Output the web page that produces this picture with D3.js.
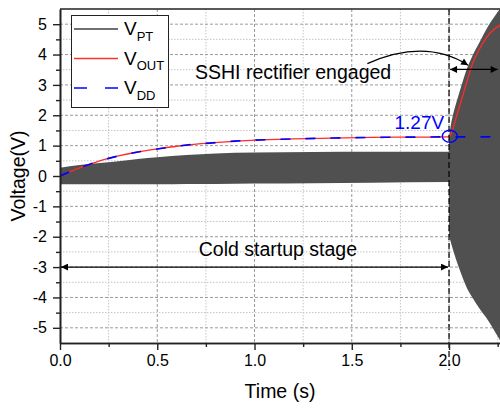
<!DOCTYPE html>
<html>
<head>
<meta charset="utf-8">
<script src="https://cdn.jsdelivr.net/npm/d3@7"></script>
<style>
  body { margin: 0; background: #fff; }
  svg { display: block; font-family: Arial, "Liberation Sans", sans-serif; }
</style>
</head>
<body>
<div id="chart"></div>
<script>
// V_PT envelope during cold startup (s, V)
const vptT  = [0, 0.1, 0.25, 0.4, 0.5, 0.65, 0.8, 1.0, 1.3, 1.6, 2.0];
const vptHi = [0.27, 0.36, 0.45, 0.56, 0.62, 0.69, 0.74, 0.77, 0.79, 0.80, 0.80];
const vptLo = [-0.27, -0.27, -0.27, -0.27, -0.27, -0.26, -0.26, -0.25, -0.24, -0.22, -0.20];

// V_PT envelope once the SSHI rectifier is engaged
const sshiT  = [2.0, 2.01, 2.02, 2.04, 2.06, 2.09, 2.12, 2.16, 2.2, 2.25, 2.28];
const sshiHi = [1.3, 1.7, 2.0, 2.47, 2.9, 3.5, 3.95, 4.45, 4.92, 5.4, 5.65];
const sshiLo = [-1.95, -2.2, -2.42, -2.82, -3.18, -3.66, -4.0, -4.4, -4.75, -5.28, -5.6];

// V_OUT
const voutT = [0, 0.05, 0.1, 0.15, 0.2, 0.25, 0.3, 0.4, 0.5, 0.6, 0.7, 0.8, 0.9, 1.0, 1.2, 1.4, 1.6, 1.8, 2.0,
               2.012, 2.04, 2.064, 2.09, 2.115, 2.158, 2.21, 2.27];
const vout  = [0, 0.14, 0.27, 0.38, 0.49, 0.58, 0.66, 0.79, 0.89, 0.98, 1.05, 1.10, 1.15, 1.18, 1.22, 1.25, 1.27, 1.28, 1.29,
               1.41, 2.0, 2.51, 3.07, 3.6, 4.2, 4.7, 5.0];

// V_DD
const vddT = [0, 0.05, 0.1, 0.15, 0.2, 0.25, 0.3, 0.4, 0.5, 0.6, 0.7, 0.8, 0.9, 1.0, 1.2, 1.4, 1.6, 1.8, 2.0, 2.28];
const vdd  = [0, 0.14, 0.27, 0.38, 0.49, 0.58, 0.66, 0.79, 0.89, 0.98, 1.05, 1.10, 1.15, 1.18, 1.22, 1.25, 1.27, 1.28, 1.29, 1.29];

// ticks
const xMajor = [0, 0.5, 1.0, 1.5, 2.0];
const xMinor = [0.25, 0.75, 1.25, 1.75, 2.25];
const yMajor = [-5, -4, -3, -2, -1, 0, 1, 2, 3, 4, 5];
const yMinor = [-4.5, -3.5, -2.5, -1.5, -0.5, 0.5, 1.5, 2.5, 3.5, 4.5];

const legendNames = [["V", "PT"], ["V", "OUT"], ["V", "DD"]];

const W = 500, H = 409;
const margin = { top: 9, right: 0, bottom: 66, left: 60 };

const svg = d3.select("#chart").append("svg")
  .attr("width", W).attr("height", H);

const x = d3.scaleLinear().domain([0, 2.262]).range([margin.left, W - margin.right]);
const y = d3.scaleLinear().domain([-5.5, 5.5]).range([H - margin.bottom, margin.top]);

svg.append("clipPath").attr("id", "plotClip")
  .append("rect")
  .attr("x", x(0)).attr("y", y(5.5))
  .attr("width", x(2.262) - x(0)).attr("height", y(-5.5) - y(5.5));

// markers
const defs = svg.append("defs");
defs.append("marker")
  .attr("id", "arrow")
  .attr("viewBox", "0 -5 10 10")
  .attr("refX", 10).attr("refY", 0)
  .attr("markerWidth", 11).attr("markerHeight", 7)
  .attr("markerUnits", "userSpaceOnUse")
  .attr("orient", "auto-start-reverse")
  .append("path").attr("d", "M0,-5L10,0L0,5Z").attr("fill", "#000");

// grid
const grid = svg.append("g");
grid.selectAll(".hmin").data(yMinor).enter().append("line")
  .attr("x1", x(0)).attr("x2", W)
  .attr("y1", d => y(d)).attr("y2", d => y(d))
  .attr("stroke", "#c4c4c4").attr("stroke-width", 1).attr("stroke-dasharray", "1.5,1.5");
grid.selectAll(".vmin").data(xMinor).enter().append("line")
  .attr("x1", d => x(d)).attr("x2", d => x(d))
  .attr("y1", y(5.5)).attr("y2", y(-5.5))
  .attr("stroke", "#c4c4c4").attr("stroke-width", 1).attr("stroke-dasharray", "1.5,1.5");
grid.selectAll(".hmaj").data(yMajor).enter().append("line")
  .attr("x1", x(0)).attr("x2", W)
  .attr("y1", d => y(d)).attr("y2", d => y(d))
  .attr("stroke", "#9a9a9a").attr("stroke-width", 1).attr("stroke-dasharray", "3,2");
grid.selectAll(".vmaj").data(xMajor.slice(1)).enter().append("line")
  .attr("x1", d => x(d)).attr("x2", d => x(d))
  .attr("y1", y(5.5)).attr("y2", y(-5.5))
  .attr("stroke", "#9a9a9a").attr("stroke-width", 1).attr("stroke-dasharray", "3,2");

const plot = svg.append("g").attr("clip-path", "url(#plotClip)");

// V_PT bands
const band = d3.area()
  .x(d => x(d[0])).y0(d => y(d[2])).y1(d => y(d[1]))
  .curve(d3.curveMonotoneX);

plot.append("path")
  .datum(vptT.map((t, i) => [t, vptHi[i], vptLo[i]]))
  .attr("d", band).attr("fill", "#505050");

plot.append("path")
  .datum(sshiT.map((t, i) => [t, sshiHi[i], sshiLo[i]]))
  .attr("d", band).attr("fill", "#505050");

// V_OUT and V_DD
const line = d3.line().x(d => x(d[0])).y(d => y(d[1])).curve(d3.curveMonotoneX);

plot.append("path")
  .datum(voutT.map((t, i) => [t, vout[i]]))
  .attr("d", line).attr("fill", "none")
  .attr("stroke", "#ff2a2a").attr("stroke-width", 1.3);

plot.append("path")
  .datum(vddT.map((t, i) => [t, vdd[i]]))
  .attr("d", line).attr("fill", "none")
  .attr("stroke", "#0000ff").attr("stroke-width", 1.6).attr("stroke-dasharray", "10,15");

// vertical dashed marker at 2.0 s
svg.append("line")
  .attr("x1", x(2.0)).attr("x2", x(2.0))
  .attr("y1", y(5.5)).attr("y2", y(-5.5) + 27)
  .attr("stroke", "#000").attr("stroke-width", 1.2).attr("stroke-dasharray", "6,3");

// axes
const axisStyle = g => {
  g.select(".domain").attr("stroke", "#222").attr("stroke-width", 1.6);
  g.selectAll(".tick line").attr("stroke", "#222").attr("stroke-width", 1.4);
  g.selectAll("text").attr("fill", "#000").style("font-size", "16px").style("font-family", "Arial, 'Liberation Sans', sans-serif");
};

svg.append("g")
  .attr("transform", `translate(${x(0)},0)`)
  .call(d3.axisLeft(y).tickValues(yMinor).tickSize(4).tickFormat("").tickSizeOuter(0))
  .call(axisStyle);
svg.append("g")
  .attr("transform", `translate(${x(0)},0)`)
  .call(d3.axisLeft(y).tickValues(yMajor).tickSize(7).tickPadding(6).tickSizeOuter(0)
    .tickFormat(d => String(d)))
  .call(axisStyle);

svg.append("g")
  .attr("transform", `translate(0,${y(-5.5)})`)
  .call(d3.axisBottom(x).tickValues(xMinor).tickSize(4).tickFormat("").tickSizeOuter(0))
  .call(axisStyle);
svg.append("g")
  .attr("transform", `translate(0,${y(-5.5)})`)
  .call(d3.axisBottom(x).tickValues(xMajor).tickSize(7).tickPadding(5).tickSizeOuter(0)
    .tickFormat(d3.format(".1f")))
  .call(axisStyle);

// top frame
svg.append("line")
  .attr("x1", x(0)).attr("x2", W)
  .attr("y1", y(5.5)).attr("y2", y(5.5))
  .attr("stroke", "#222").attr("stroke-width", 1.6);

// axis titles
svg.append("text")
  .attr("x", (x(0) + W) / 2 + 0)
  .attr("y", 398)
  .attr("text-anchor", "middle")
  .style("font-size", "19.5px")
  .text("Time (s)");

svg.append("text")
  .attr("transform", `translate(25,${y(0)}) rotate(-90)`)
  .attr("text-anchor", "middle")
  .style("font-size", "19.5px")
  .text("Voltage(V)");

// annotations
svg.append("line")
  .attr("x1", x(0) + 1).attr("x2", x(2.0) - 1)
  .attr("y1", y(-3)).attr("y2", y(-3))
  .attr("stroke", "#000").attr("stroke-width", 1.2)
  .attr("marker-start", "url(#arrow)").attr("marker-end", "url(#arrow)");

svg.append("text")
  .attr("x", x(1.12)).attr("y", y(-2.63))
  .attr("text-anchor", "middle")
  .style("font-size", "19.5px")
  .text("Cold startup stage");

svg.append("line")
  .attr("x1", x(2.0) + 1).attr("x2", x(2.25))
  .attr("y1", y(3.51)).attr("y2", y(3.51))
  .attr("stroke", "#000").attr("stroke-width", 1.2)
  .attr("marker-start", "url(#arrow)").attr("marker-end", "url(#arrow)");

svg.append("path")
  .attr("d", `M${x(1.58)},${y(3.7)} Q${x(1.877)},${y(4.545)} ${x(2.098)},${y(3.65)}`)
  .attr("fill", "none").attr("stroke", "#000").attr("stroke-width", 1.2)
  .attr("marker-end", "url(#arrow)");

svg.append("text")
  .attr("x", x(0.694)).attr("y", y(3.18))
  .style("font-size", "19.5px")
  .text("SSHI rectifier engaged");

svg.append("ellipse")
  .attr("cx", x(2.004)).attr("cy", y(1.31))
  .attr("rx", 7.5).attr("ry", 6)
  .attr("fill", "none").attr("stroke", "#0000ff").attr("stroke-width", 1.4);

svg.append("text")
  .attr("x", x(1.975)).attr("y", y(1.55))
  .attr("text-anchor", "end")
  .attr("fill", "#0000ff")
  .style("font-size", "19px")
  .text("1.27V");

// legend
const lg = svg.append("g");
lg.append("rect")
  .attr("x", 71.5).attr("y", 15.5).attr("width", 97).attr("height", 92)
  .attr("fill", "#fff").attr("stroke", "#222").attr("stroke-width", 1);

const legendStyles = [
  { stroke: "#707070", width: 1.8, dash: null },
  { stroke: "#ff3030", width: 1.4, dash: null },
  { stroke: "#0000ff", width: 1.6, dash: "13,18" }
];

legendNames.forEach((n, i) => {
  const ly = 29 + i * 29.5;
  const st = legendStyles[i];
  lg.append("line")
    .attr("x1", 74).attr("x2", 118).attr("y1", ly).attr("y2", ly)
    .attr("stroke", st.stroke).attr("stroke-width", st.width)
    .attr("stroke-dasharray", st.dash);
  const t = lg.append("text").attr("x", 124).attr("y", ly + 6).style("font-size", "19px");
  t.append("tspan").text(n[0]);
  t.append("tspan").attr("dy", 5.5).style("font-size", "13px").text(n[1]);
});
</script>
</body>
</html>
